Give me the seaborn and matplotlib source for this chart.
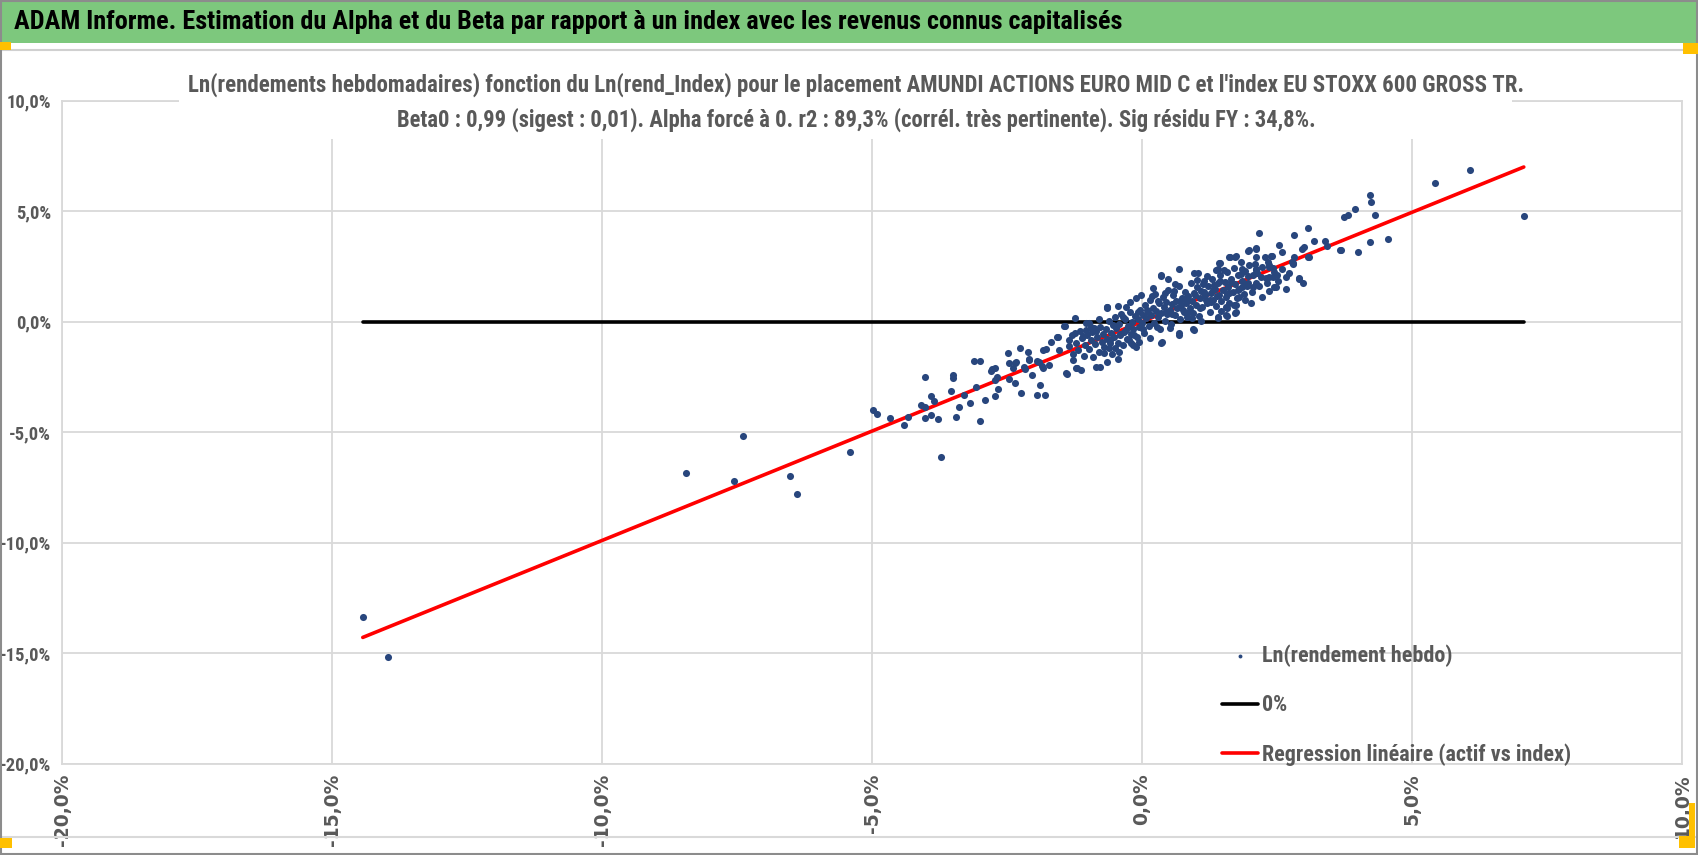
import numpy as np
import matplotlib
matplotlib.use("Agg")
import matplotlib.pyplot as plt
import matplotlib.patches as mpatches
from matplotlib import font_manager as fm
from matplotlib.ticker import FuncFormatter, MultipleLocator
import seaborn as sns

# --- data (weekly log returns, %) ---
# far lower tail
x_tail = [-14.43, -13.97, -8.45, -7.55, -7.39, -6.52, -6.38, -5.40, -3.73]
y_tail = [-13.38, -15.15, -6.83, -7.21, -5.19, -6.97, -7.78, -5.88, -6.13]

# lower part of the cloud
x_low = [-4.98, -4.90, -4.66, -4.41, -4.33, -4.10, -4.02, -4.02, -3.90, -3.77, -3.90, -3.85,
         -4.02, -3.50, -3.50, -3.54, -3.39, -3.44, -3.30, -3.18, -3.07, -3.00, -2.91, -3.11,
         -3.00, -2.79, -2.73, -2.69, -2.72, -2.67, -2.73, -2.48, -2.46, -2.36, -2.26, -2.46,
         -2.36, -2.25, -2.11, -2.09, -2.17, -2.03, -1.95, -1.86, -1.84, -1.78, -1.88, -1.94,
         -1.80, -1.68, -1.58, -1.43, -1.24, -1.39, -1.22]
y_low = [-3.98, -4.18, -4.37, -4.69, -4.30, -3.78, -3.84, -4.36, -4.24, -4.42, -3.36, -3.57,
         -2.49, -2.41, -2.53, -3.15, -3.84, -4.30, -3.30, -3.69, -2.97, -4.49, -3.54, -1.78,
         -1.78, -2.22, -2.10, -2.49, -2.64, -3.03, -3.36, -1.40, -1.85, -1.85, -1.21, -2.58,
         -2.79, -3.24, -1.37, -1.70, -2.13, -2.43, -1.79, -2.00, -1.28, -1.25, -2.85, -3.30,
         -3.30, -0.92, -0.71, -0.19, 0.15, -2.37, -2.10]

# left side of the dense core
x_mid = [-2.77, -2.39, -2.34, -2.10, -2.18, -1.91, -1.84, -1.72, -1.53, -1.56, -1.44, -1.40,
         -1.36, -1.21, -1.13, -1.28, -0.98, -1.04, -0.88, -0.79, -0.85, -0.78, -0.64, -0.45,
         -0.30, -0.11, -0.08, -0.11, -0.42, -0.45, -0.61, -0.64, -0.24, -0.30, -0.54, -1.04,
         -0.64, -0.23]
y_mid = [-2.15, -2.11, -1.81, -1.73, -2.06, -1.81, -2.11, -1.96, -1.28, -0.68, -0.18, -2.34,
         -0.83, -2.11, -2.19, -1.73, -0.05, -0.38, -0.30, 0.11, -2.06, -2.06, 0.61, 0.71,
         0.65, 1.06, 0.45, -1.13, -1.36, -1.70, -1.20, -1.81, -0.83, -0.38, -0.15, -0.07,
         0.65, 0.90]

# dense core, index between -1.4 % and 0 %
x_core_a = [-1.35, -1.30, -1.27, -1.22, -1.18, -1.15, -1.12, -1.08, -1.05, -1.02, -0.98, -0.95,
            -0.93, -0.90, -0.87, -0.84, -0.80, -0.78, -0.75, -0.72, -0.70, -0.67, -0.65, -0.62,
            -0.60, -0.57, -0.55, -0.52, -0.50, -0.48, -0.45, -0.43, -0.40, -0.38, -0.36, -0.33,
            -0.31, -0.28, -0.26, -0.23, -0.21, -0.18, -0.16, -0.13, -0.10, -0.08, -0.05, -0.03,
            0.00, 0.02]
y_core_a = [-1.10, -0.60, -1.45, -0.95, -1.30, -0.40, -0.75, -1.55, -1.05, -0.62, -1.25, -0.85,
            -0.45, -1.60, -1.02, -0.68, -1.35, -0.22, -0.90, -0.55, -1.15, -0.35, -0.78, 0.05,
            -0.98, -0.50, -1.45, -0.70, 0.20, -0.30, -0.95, -0.10, -0.62, 0.35, -1.05, -0.45,
            0.10, -0.80, -0.20, 0.45, -0.55, 0.00, -0.35, 0.25, -0.70, 0.12, -0.25, 0.55,
            -0.05, 0.30]

# dense core, index between 0 % and 1 %
x_core_b = [0.04, 0.06, 0.08, 0.11, 0.13, 0.15, 0.17, 0.20, 0.22, 0.24, 0.26, 0.29, 0.31, 0.33,
            0.35, 0.38, 0.40, 0.42, 0.45, 0.47, 0.49, 0.52, 0.54, 0.56, 0.58, 0.61, 0.63, 0.65,
            0.68, 0.70, 0.72, 0.74, 0.77, 0.79, 0.81, 0.84, 0.86, 0.88, 0.90, 0.93, 0.95, 0.97,
            1.00, 1.02, 1.05]
y_core_b = [-0.50, 0.75, 0.15, 0.45, -0.20, 1.00, 0.30, 0.60, -0.05, 1.25, 0.50, 0.20, 0.85, -0.35,
            0.40, 1.10, 0.65, 0.05, 0.90, 0.35, 1.45, 0.55, -0.10, 0.80, 1.20, 0.30, 0.95, 0.60,
            1.60, 0.10, 0.75, 1.05, 0.45, 1.35, 0.85, 0.20, 1.15, 0.60, 1.75, 0.95, 0.40, 1.30,
            0.75, 1.55, 0.25]

# dense core, index between 1 % and 2 %
x_core_c = [1.07, 1.10, 1.12, 1.15, 1.17, 1.20, 1.22, 1.25, 1.27, 1.30, 1.32, 1.35, 1.37, 1.40,
            1.42, 1.45, 1.47, 1.50, 1.53, 1.55, 1.57, 1.60, 1.62, 1.65, 1.68, 1.70, 1.73, 1.75,
            1.78, 1.80, 1.83, 1.85, 1.88, 1.90, 1.93, 1.96, 1.98]
y_core_c = [1.05, 1.40, 0.65, 1.85, 1.20, 0.85, 1.60, 0.45, 1.30, 1.95, 1.00, 1.50, 0.70, 1.75,
            1.20, 2.10, 0.95, 1.45, 1.80, 1.10, 2.25, 1.55, 0.85, 1.95, 1.35, 2.45, 1.70, 1.05,
            2.10, 1.50, 2.70, 1.85, 1.25, 2.30, 1.65, 2.05, 2.55]

# more of the crowded centre
x_core_d = [0.30, 0.42, 0.55, 0.62, 0.75, 0.83, 0.92, 1.01, 1.08, 1.14, 1.21, 1.28, 1.33, 1.39,
            1.46, 1.52, 1.58, 1.64, 1.71, 1.77, 1.84, 1.91, 1.97, 2.03, 2.09, 2.16, 2.22, 2.29,
            2.35, 2.44, 2.52, 2.60,
            0.10, 0.18, 0.27, 0.44, 0.59, 0.71, 0.87, 0.99, 1.13, 1.26, 1.44, 1.61, 1.79, 1.95,
            2.13, 2.31, 2.50,
            -0.60, -0.40, -0.20, -0.95, -1.10, -0.70, -0.35, -0.15, -0.50, -0.85, -1.25]
y_core_d = [0.95, 1.30, 0.35, 1.70, 0.55, 1.05, 0.15, 1.90, 0.60, 1.35, 2.05, 0.90, 1.65, 1.15,
            0.50, 2.35, 1.25, 1.80, 0.75, 1.45, 2.15, 1.00, 1.75, 1.35, 2.60, 1.60, 1.10, 2.00,
            1.40, 2.25, 1.85, 2.40,
            0.55, 1.15, -0.25, 0.45, 1.40, 0.95, 0.45, 1.20, 1.70, 1.00, 1.85, 1.30, 1.10, 1.60,
            2.20, 1.75, 2.10,
            -0.85, -0.55, -0.95, -0.25, -0.65, -1.40, 0.20, -0.60, -1.20, -0.40, -0.50]

# scattered points around the core
x_ring = [2.11, 1.97, 2.41, 1.62, 1.74, 1.43, 0.68, 0.36, 1.03, 0.49, 1.37, 1.86, 2.11, 2.20,
          2.36, 2.48, 2.02, 1.74, 1.58, 1.40, 1.09, 0.95, 0.69, 0.37, 0.14, -0.05, -0.17, 0.52,
          0.01, 1.58, 1.74, 1.86, 2.11, 1.31, 1.18, 2.67, 2.73, 2.91, 2.99, 2.36, 2.42, 2.45,
          2.05, 1.73, 1.55, 1.55, 1.41, 0.35, 0.97, 1.40, 1.44, 1.63, 1.72, 0.20, -0.02, -0.64,
          0.35, 0.69, 0.97, 2.79, 3.10]
y_ring = [3.32, 3.21, 2.97, 2.94, 2.97, 2.67, 2.40, 2.11, 2.22, 1.92, 2.34, 2.37, 2.37, 2.04,
          2.04, 1.58, 0.83, 0.76, 0.61, 0.20, 0.02, -0.34, -0.59, -0.92, -0.75, -0.90, -1.05, -0.27,
          -0.34, 0.26, 0.45, 1.58, 1.74, 1.43, 0.98, 1.47, 2.19, 1.92, 1.77, 2.57, 2.04, 1.58,
          1.58, 0.38, 0.68, 0.30, 0.15, 2.07, 2.22, 2.37, 2.64, 2.94, 2.94, 1.51, 1.21, 0.65,
          -0.98, -0.53, -0.38, 2.64, 2.91]

# upper part of the cloud
x_high = [4.22, 4.24, 3.94, 3.81, 3.74, 4.31, 4.55, 4.22, 4.00, 3.67, 3.39, 3.42, 3.19, 3.08,
          3.08, 3.00, 2.97, 2.82, 2.82, 2.78, 2.80, 2.60, 2.54, 2.17, 2.11, 1.99, 2.12, 2.28,
          2.39, 2.33, 2.36, 2.42, 2.23, 2.11, 2.67, 2.91, 2.05, 3.68, 5.42, 6.07, 7.07]
y_high = [5.75, 5.43, 5.11, 4.81, 4.74, 4.81, 3.73, 3.61, 3.17, 3.23, 3.67, 3.41, 3.67, 4.23,
          2.91, 3.37, 3.28, 3.92, 2.94, 2.71, 2.61, 3.17, 3.47, 4.00, 3.28, 3.24, 2.91, 2.91,
          2.97, 2.71, 2.46, 2.42, 2.49, 2.34, 2.04, 1.96, 2.11, 3.24, 6.26, 6.86, 4.80]

beta = 0.99  # alpha forced to 0

title = "ADAM Informe. Estimation du Alpha et du Beta par rapport à un index avec les revenus connus capitalisés"
subtitle_1 = "Ln(rendements hebdomadaires) fonction du Ln(rend_Index) pour le placement AMUNDI ACTIONS EURO MID C et l'index EU STOXX 600 GROSS TR."
subtitle_2 = "Beta0 : 0,99 (sigest : 0,01). Alpha forcé à 0. r2 : 89,3% (corrél. très pertinente). Sig résidu FY : 34,8%."
labels = ["Ln(rendement hebdo)", "0%", "Regression linéaire (actif vs index)"]

x_all = np.array(x_tail + x_low + x_mid + x_core_a + x_core_b + x_core_c + x_core_d + x_ring + x_high)
y_all = np.array(y_tail + y_low + y_mid + y_core_a + y_core_b + y_core_c + y_core_d + y_ring + y_high)
x_line = [x_all.min(), x_all.max()]


def pick_narrow():
    # the original uses a narrow Calibri-like face; take the closest installed one
    cond = {"condensed", "semi-condensed", "extra-condensed", "ultra-condensed"}
    entries = fm.fontManager.ttflist
    for name in ["Liberation Sans Narrow", "Roboto Condensed", "Open Sans Condensed",
                 "Noto Sans Condensed", "Noto Sans SemiCondensed", "DejaVu Sans Condensed"]:
        if any(f.name == name for f in entries):
            return name, "normal"
    for name in ["Noto Sans", "Open Sans", "Roboto", "DejaVu Sans"]:
        if any(f.name == name and str(f.stretch) in cond for f in entries):
            return name, "condensed"
    return "Roboto", "normal"


sns.set_theme(style="white")
narrow, stretch = pick_narrow()
plt.rcParams['font.family'] = [narrow, 'DejaVu Sans']
plt.rcParams['font.stretch'] = stretch

W, H = 1698, 855
fig = plt.figure(figsize=(W / 100, H / 100), dpi=100)
fx = lambda px: px / W
fy = lambda py: 1 - py / H

ax = fig.add_axes([fx(62), fy(763.7), fx(1682) - fx(62), fy(100.7) - fy(763.7)])

grey = "#595959"
grid_c = "#D9D9D9"

# lines first, dots on top
sns.lineplot(x=x_line, y=[0, 0], ax=ax, color="black", lw=2.6, label=labels[1],
             sort=False, estimator=None, zorder=2)
sns.lineplot(x=x_line, y=[beta * v for v in x_line], ax=ax, color="#FF0000", lw=2.6,
             label=labels[2], sort=False, estimator=None, zorder=2)
sns.scatterplot(x=x_all, y=y_all, ax=ax, color="#28467D", s=26, linewidth=0,
                label=labels[0], zorder=3)

ax.set_xlim(-20, 10)
ax.set_ylim(-20, 10)
ax.xaxis.set_major_locator(MultipleLocator(5))
ax.yaxis.set_major_locator(MultipleLocator(5))
pct = FuncFormatter(lambda v, p: f"{v:.1f}%".replace(".", ","))
ax.xaxis.set_major_formatter(pct)
ax.yaxis.set_major_formatter(pct)
ax.grid(True, color=grid_c, lw=1.3)
ax.set_axisbelow(True)
for s in ax.spines.values():
    s.set_color(grid_c)
    s.set_linewidth(1.3)
ax.tick_params(axis="x", length=0, pad=7, labelrotation=90, colors=grey)
ax.tick_params(axis="y", length=0, pad=8, colors=grey)
ax.set_xlabel("")
ax.set_ylabel("")

# frame, header band and title box
fig.patches.append(mpatches.Rectangle((0, fy(43)), 1, 1 - fy(43), transform=fig.transFigure,
                                      facecolor="#7DC87D", edgecolor="none", zorder=0))
fig.lines.append(plt.Line2D([0, 1], [fy(50), fy(50)], transform=fig.transFigure, color="#D0D0D0", lw=1.5))
fig.lines.append(plt.Line2D([0, 1], [fy(837), fy(837)], transform=fig.transFigure, color="#D9D9D9", lw=1.5))
fig.patches.append(mpatches.Rectangle((0.0005, 0.001), 0.999, 0.998, transform=fig.transFigure,
                                      facecolor="none", edgecolor="#8C8C8C", lw=1.5, zorder=5))
fig.patches.append(mpatches.Rectangle((fx(179), fy(139)), fx(1512) - fx(179), fy(60) - fy(139),
                                      transform=fig.transFigure, facecolor="white",
                                      edgecolor="none", zorder=1))
orange = "#FFC000"
for (x0, y0, w, hh) in [(0, 42, 11, 8), (1683, 43, 15, 11), (0, 838, 12, 10), (1689, 803, 6, 45),
                        (1679, 836, 16, 12)]:
    fig.patches.append(mpatches.Rectangle((fx(x0), fy(y0 + hh)), fx(w), hh / H,
                                          transform=fig.transFigure, facecolor=orange,
                                          edgecolor="none", zorder=6))

t_title = fig.text(fx(14), fy(22), title, fontsize=17, fontweight="bold", color="black",
                   ha="left", va="center", zorder=3)
t_sub1 = fig.text(fx(856), fy(85), subtitle_1, fontsize=14.5, fontweight="bold", color=grey,
                  ha="center", va="center", zorder=3)
t_sub2 = fig.text(fx(856), fy(120), subtitle_2, fontsize=14.5, fontweight="bold", color=grey,
                  ha="center", va="center", zorder=3)
t_probe = fig.text(0, 0, labels[2], fontsize=16, fontweight="bold")
y_probe = fig.text(0, 0, "-15,0%", fontsize=14, fontweight="bold")

# scale the texts so that they take the same width as in the original
fig.canvas.draw()
for t, target in [(t_title, 1113), (t_sub1, 1339), (t_sub2, 919)]:
    t.set_fontsize(t.get_fontsize() * target / t.get_window_extent().width)
leg_size = 16 * 309 / t_probe.get_window_extent().width
ytick_size = 14 * 51 / y_probe.get_window_extent().width
t_probe.remove()
y_probe.remove()

# legend in the lower right, rows about 48 px apart, first row centred at y = 658
h, l = ax.get_legend_handles_labels()
order = [l.index(name) for name in labels]
fpx = leg_size * 100 / 72
leg = ax.legend([h[i] for i in order], [l[i] for i in order], loc="upper left",
                bbox_to_anchor=(fx(1222), fy(658 - 0.6 * fpx)), bbox_transform=fig.transFigure,
                frameon=False, borderpad=0, borderaxespad=0, fontsize=leg_size,
                handlelength=36 / fpx, handletextpad=4 / fpx,
                labelspacing=(53 - 1.17 * fpx) / fpx, markerscale=0.55)
for t in leg.get_texts():
    t.set_color(grey)
    t.set_fontweight("bold")

# tick label fonts last, once the ticks exist for good
ax.tick_params(axis="x", labelsize=13.5, labelfontfamily="DejaVu Sans")
ax.tick_params(axis="y", labelsize=ytick_size)
fig.canvas.draw()
for t in ax.get_xticklabels() + ax.get_yticklabels():
    t.set_fontweight("bold")

fig.savefig("out.png", dpi=100, facecolor="white")
